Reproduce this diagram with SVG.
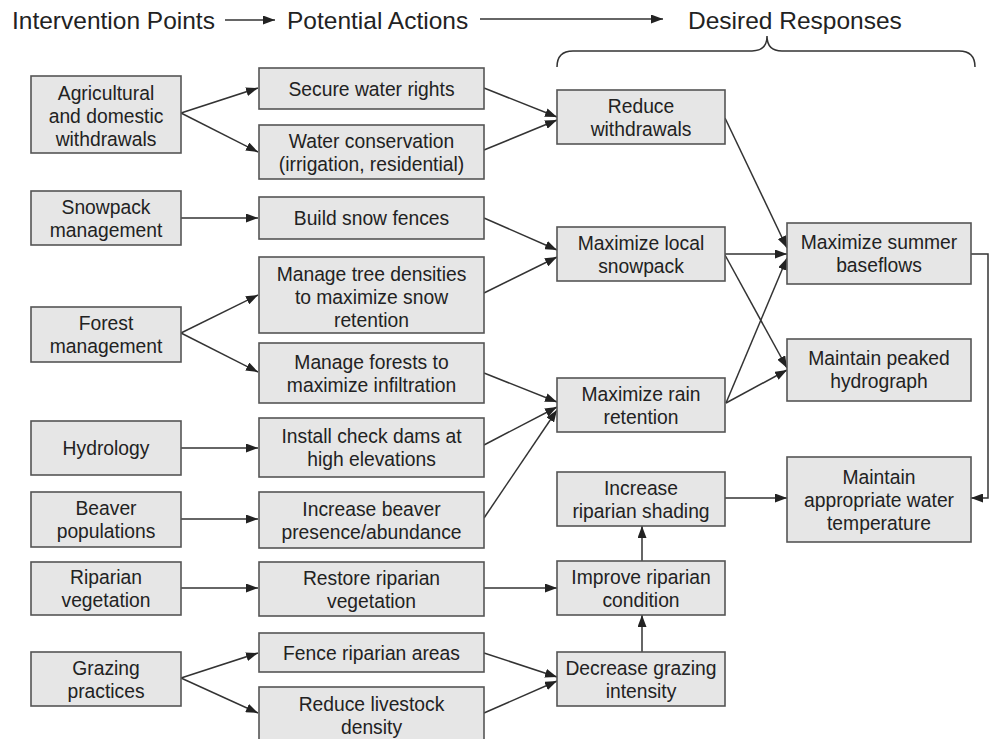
<svg xmlns="http://www.w3.org/2000/svg" width="990" height="739" viewBox="0 0 990 739">
<style>
.box{fill:#e6e6e6;stroke:#555;stroke-width:1.6}
.t{font-family:"Liberation Sans",Arial,sans-serif;font-size:19.3px;fill:#222;text-anchor:middle}
.h{font-family:"Liberation Sans",Arial,sans-serif;font-size:24.5px;fill:#222}
.c{stroke:#333;stroke-width:1.5;fill:none}
</style>
<defs>
<marker id="ah" markerUnits="userSpaceOnUse" markerWidth="12" markerHeight="9" refX="12" refY="4.5" orient="auto">
<path d="M0,0 L12,4.5 L0,9 z" fill="#222"/>
</marker>
</defs>
<rect width="990" height="739" fill="#fff"/>
<g id="header">
<text class="h" x="12" y="29">Intervention Points</text>
<text class="h" x="287" y="29">Potential Actions</text>
<text class="h" x="688" y="29">Desired Responses</text>
<line class="c" x1="225" y1="20" x2="275" y2="20" marker-end="url(#ah)"/>
<line class="c" x1="480" y1="19" x2="663" y2="19" marker-end="url(#ah)"/>
<path class="c" d="M557,67 Q557,51 573,51 L752,51 Q767,51 767,36 Q767,51 782,51 L959,51 Q975,51 975,67"/>
</g>
<g id="connectors">
<line class="c" x1="181" y1="113" x2="258" y2="88" marker-end="url(#ah)"/>
<line class="c" x1="181" y1="113" x2="258" y2="152" marker-end="url(#ah)"/>
<line class="c" x1="484" y1="88" x2="557" y2="117" marker-end="url(#ah)"/>
<line class="c" x1="484" y1="150" x2="557" y2="120" marker-end="url(#ah)"/>
<line class="c" x1="181" y1="218" x2="258" y2="218" marker-end="url(#ah)"/>
<line class="c" x1="181" y1="333" x2="258" y2="295" marker-end="url(#ah)"/>
<line class="c" x1="181" y1="333" x2="258" y2="372" marker-end="url(#ah)"/>
<line class="c" x1="181" y1="448" x2="258" y2="448" marker-end="url(#ah)"/>
<line class="c" x1="181" y1="519" x2="258" y2="519" marker-end="url(#ah)"/>
<line class="c" x1="181" y1="588" x2="258" y2="588" marker-end="url(#ah)"/>
<line class="c" x1="181" y1="678" x2="258" y2="653" marker-end="url(#ah)"/>
<line class="c" x1="181" y1="678" x2="258" y2="713" marker-end="url(#ah)"/>
<line class="c" x1="484" y1="218" x2="557" y2="250" marker-end="url(#ah)"/>
<line class="c" x1="484" y1="293" x2="557" y2="257" marker-end="url(#ah)"/>
<line class="c" x1="484" y1="373" x2="557" y2="402" marker-end="url(#ah)"/>
<line class="c" x1="484" y1="445" x2="557" y2="407" marker-end="url(#ah)"/>
<line class="c" x1="484" y1="518" x2="557" y2="410" marker-end="url(#ah)"/>
<line class="c" x1="484" y1="588" x2="557" y2="588" marker-end="url(#ah)"/>
<line class="c" x1="484" y1="653" x2="557" y2="677" marker-end="url(#ah)"/>
<line class="c" x1="484" y1="713" x2="557" y2="681" marker-end="url(#ah)"/>
<line class="c" x1="725" y1="118" x2="787" y2="248" marker-end="url(#ah)"/>
<line class="c" x1="725" y1="254" x2="787" y2="254" marker-end="url(#ah)"/>
<line class="c" x1="725" y1="255" x2="787" y2="368" marker-end="url(#ah)"/>
<line class="c" x1="726" y1="403" x2="787" y2="258" marker-end="url(#ah)"/>
<line class="c" x1="726" y1="403" x2="787" y2="370" marker-end="url(#ah)"/>
<line class="c" x1="642" y1="652" x2="642" y2="615" marker-end="url(#ah)"/>
<line class="c" x1="642" y1="561" x2="642" y2="526" marker-end="url(#ah)"/>
<line class="c" x1="725" y1="498" x2="787" y2="498" marker-end="url(#ah)"/>
<polyline class="c" points="971,254 988,254 988,498 971,498" marker-end="url(#ah)"/>
</g>
<g id="n-agri"><rect class="box" x="31" y="76" width="150" height="77"/><text class="t" x="106" y="100">Agricultural</text><text class="t" x="106" y="123">and domestic</text><text class="t" x="106" y="146">withdrawals</text></g>
<g id="n-snow"><rect class="box" x="31" y="191" width="150" height="54"/><text class="t" x="106" y="214">Snowpack</text><text class="t" x="106" y="237">management</text></g>
<g id="n-forest"><rect class="box" x="31" y="307" width="150" height="55"/><text class="t" x="106" y="330">Forest</text><text class="t" x="106" y="353">management</text></g>
<g id="n-hydro"><rect class="box" x="31" y="421" width="150" height="54"/><text class="t" x="106" y="455">Hydrology</text></g>
<g id="n-beaver"><rect class="box" x="31" y="492" width="150" height="55"/><text class="t" x="106" y="515">Beaver</text><text class="t" x="106" y="538">populations</text></g>
<g id="n-ripveg"><rect class="box" x="31" y="562" width="150" height="53"/><text class="t" x="106" y="584">Riparian</text><text class="t" x="106" y="607">vegetation</text></g>
<g id="n-grazing"><rect class="box" x="31" y="652" width="150" height="54"/><text class="t" x="106" y="675">Grazing</text><text class="t" x="106" y="698">practices</text></g>
<g id="a-secure"><rect class="box" x="259" y="68" width="225" height="41"/><text class="t" x="371.5" y="96">Secure water rights</text></g>
<g id="a-conserve"><rect class="box" x="259" y="125" width="225" height="54"/><text class="t" x="371.5" y="148">Water conservation</text><text class="t" x="371.5" y="171">(irrigation, residential)</text></g>
<g id="a-fences"><rect class="box" x="259" y="197" width="225" height="42"/><text class="t" x="371.5" y="225">Build snow fences</text></g>
<g id="a-trees"><rect class="box" x="259" y="257" width="225" height="76"/><text class="t" x="371.5" y="281">Manage tree densities</text><text class="t" x="371.5" y="304">to maximize snow</text><text class="t" x="371.5" y="327">retention</text></g>
<g id="a-forests"><rect class="box" x="259" y="343" width="225" height="60"/><text class="t" x="371.5" y="369">Manage forests to</text><text class="t" x="371.5" y="392">maximize infiltration</text></g>
<g id="a-dams"><rect class="box" x="259" y="418" width="225" height="59"/><text class="t" x="371.5" y="443">Install check dams at</text><text class="t" x="371.5" y="466">high elevations</text></g>
<g id="a-beaver"><rect class="box" x="259" y="492" width="225" height="56"/><text class="t" x="371.5" y="516">Increase beaver</text><text class="t" x="371.5" y="539">presence/abundance</text></g>
<g id="a-restore"><rect class="box" x="259" y="562" width="225" height="54"/><text class="t" x="371.5" y="585">Restore riparian</text><text class="t" x="371.5" y="608">vegetation</text></g>
<g id="a-fence"><rect class="box" x="259" y="633" width="225" height="39"/><text class="t" x="371.5" y="660">Fence riparian areas</text></g>
<g id="a-livestock"><rect class="box" x="259" y="687" width="225" height="56"/><text class="t" x="371.5" y="711">Reduce livestock</text><text class="t" x="371.5" y="734">density</text></g>
<g id="r-withdrawals"><rect class="box" x="557" y="90" width="168" height="54"/><text class="t" x="641" y="113">Reduce</text><text class="t" x="641" y="136">withdrawals</text></g>
<g id="r-snowpack"><rect class="box" x="557" y="227" width="168" height="54"/><text class="t" x="641" y="250">Maximize local</text><text class="t" x="641" y="273">snowpack</text></g>
<g id="r-rain"><rect class="box" x="557" y="378" width="168" height="54"/><text class="t" x="641" y="401">Maximize rain</text><text class="t" x="641" y="424">retention</text></g>
<g id="r-shading"><rect class="box" x="557" y="472" width="168" height="54"/><text class="t" x="641" y="495">Increase</text><text class="t" x="641" y="518">riparian shading</text></g>
<g id="r-condition"><rect class="box" x="557" y="561" width="168" height="54"/><text class="t" x="641" y="584">Improve riparian</text><text class="t" x="641" y="607">condition</text></g>
<g id="r-grazing"><rect class="box" x="557" y="652" width="168" height="54"/><text class="t" x="641" y="675">Decrease grazing</text><text class="t" x="641" y="698">intensity</text></g>
<g id="d-baseflows"><rect class="box" x="787" y="223" width="184" height="61"/><text class="t" x="879" y="249">Maximize summer</text><text class="t" x="879" y="272">baseflows</text></g>
<g id="d-hydrograph"><rect class="box" x="787" y="339" width="184" height="62"/><text class="t" x="879" y="365">Maintain peaked</text><text class="t" x="879" y="388">hydrograph</text></g>
<g id="d-temp"><rect class="box" x="787" y="457" width="184" height="85"/><text class="t" x="879" y="484">Maintain</text><text class="t" x="879" y="507">appropriate water</text><text class="t" x="879" y="530">temperature</text></g>
</svg>
